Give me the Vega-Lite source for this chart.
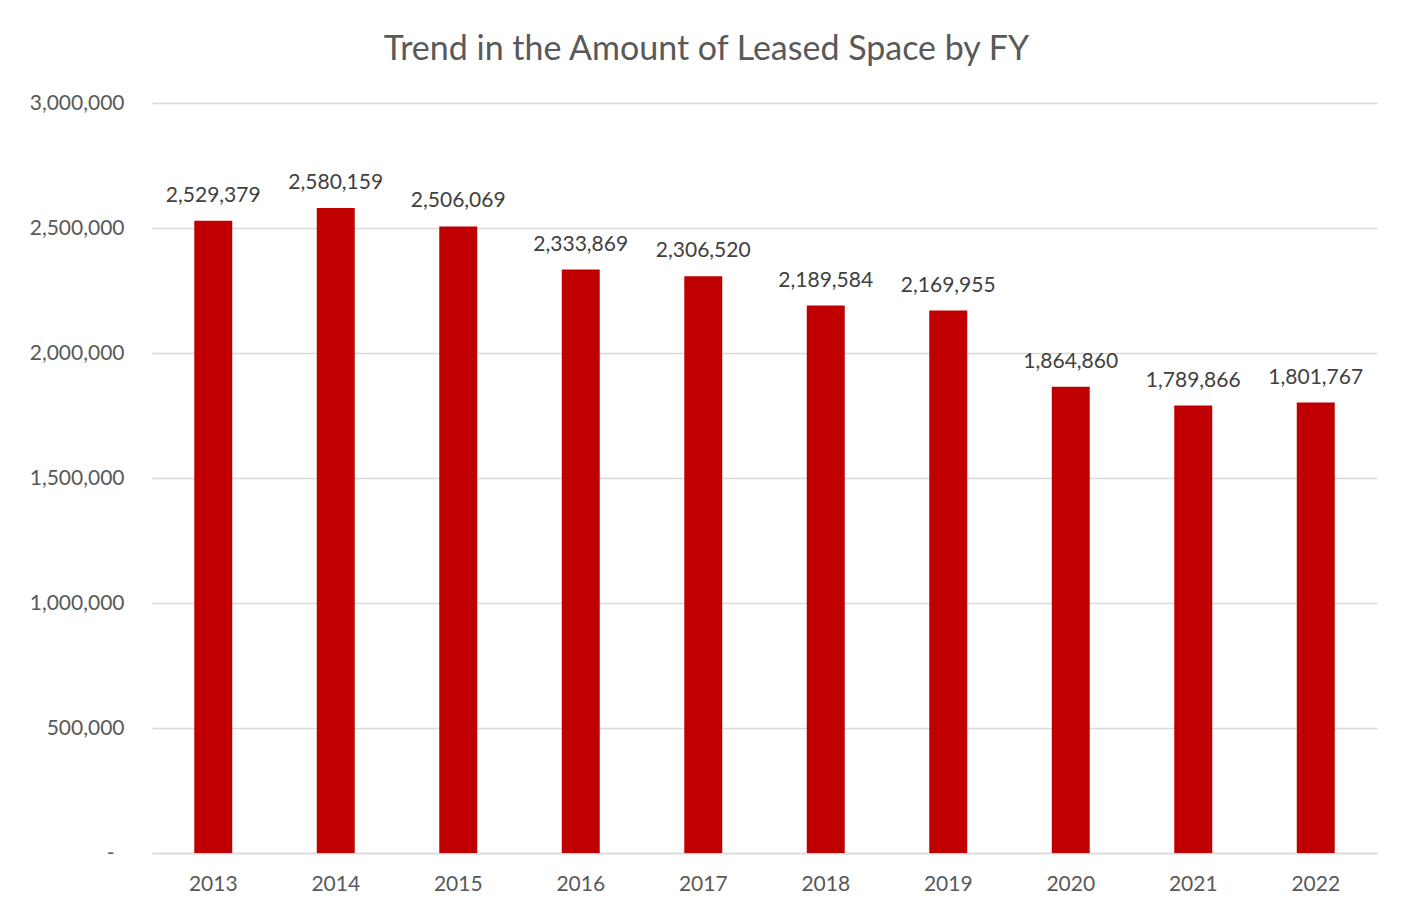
{
  "$schema": "https://vega.github.io/schema/vega-lite/v6.json",
  "autosize": {"type": "none"},
  "width": 1225,
  "height": 750,
  "padding": {"left": 152, "top": 103, "right": 36, "bottom": 62},
  "background": "white",
  "title": {
    "text": "Trend in the Amount of Leased Space by FY",
    "font": "Lato",
    "fontSize": 34,
    "fontWeight": "normal",
    "color": "#595959",
    "anchor": "middle",
    "dx": -58,
    "offset": 25
  },
  "data": {
    "values": [
      {"year": "2013", "space": 2529379},
      {"year": "2014", "space": 2580159},
      {"year": "2015", "space": 2506069},
      {"year": "2016", "space": 2333869},
      {"year": "2017", "space": 2306520},
      {"year": "2018", "space": 2189584},
      {"year": "2019", "space": 2169955},
      {"year": "2020", "space": 1864860},
      {"year": "2021", "space": 1789866},
      {"year": "2022", "space": 1801767}
    ]
  },
  "encoding": {
    "x": {
      "field": "year",
      "type": "ordinal",
      "scale": {"paddingInner": 0.69, "paddingOuter": 0.345},
      "axis": {
        "title": null,
        "labelAngle": 0,
        "labelFont": "Lato",
        "labelFontSize": 21,
        "labelColor": "#595959",
        "labelPadding": 20,
        "ticks": false,
        "domainColor": "#d9d9d9",
        "domainWidth": 1.5
      }
    },
    "y": {
      "field": "space",
      "type": "quantitative",
      "scale": {"domain": [0, 3000000], "nice": false},
      "axis": {
        "title": null,
        "values": [0, 500000, 1000000, 1500000, 2000000, 2500000, 3000000],
        "labelExpr": "datum.value === 0 ? '-' : format(datum.value, ',')",
        "labelFont": "Lato",
        "labelFontSize": 21,
        "labelColor": "#595959",
        "labelPadding": {"condition": {"test": "datum.value === 0", "value": 38}, "value": 28},
        "ticks": false,
        "domain": false,
        "gridColor": "#d9d9d9",
        "gridWidth": 1.5
      }
    }
  },
  "layer": [
    {"mark": {"type": "bar", "color": "#c00000"}},
    {
      "mark": {
        "type": "text",
        "baseline": "alphabetic",
        "dy": -19,
        "font": "Lato",
        "fontSize": 21,
        "color": "#404040"
      },
      "encoding": {"text": {"field": "space", "type": "quantitative", "format": ","}}
    }
  ],
  "config": {"view": {"stroke": null}}
}
